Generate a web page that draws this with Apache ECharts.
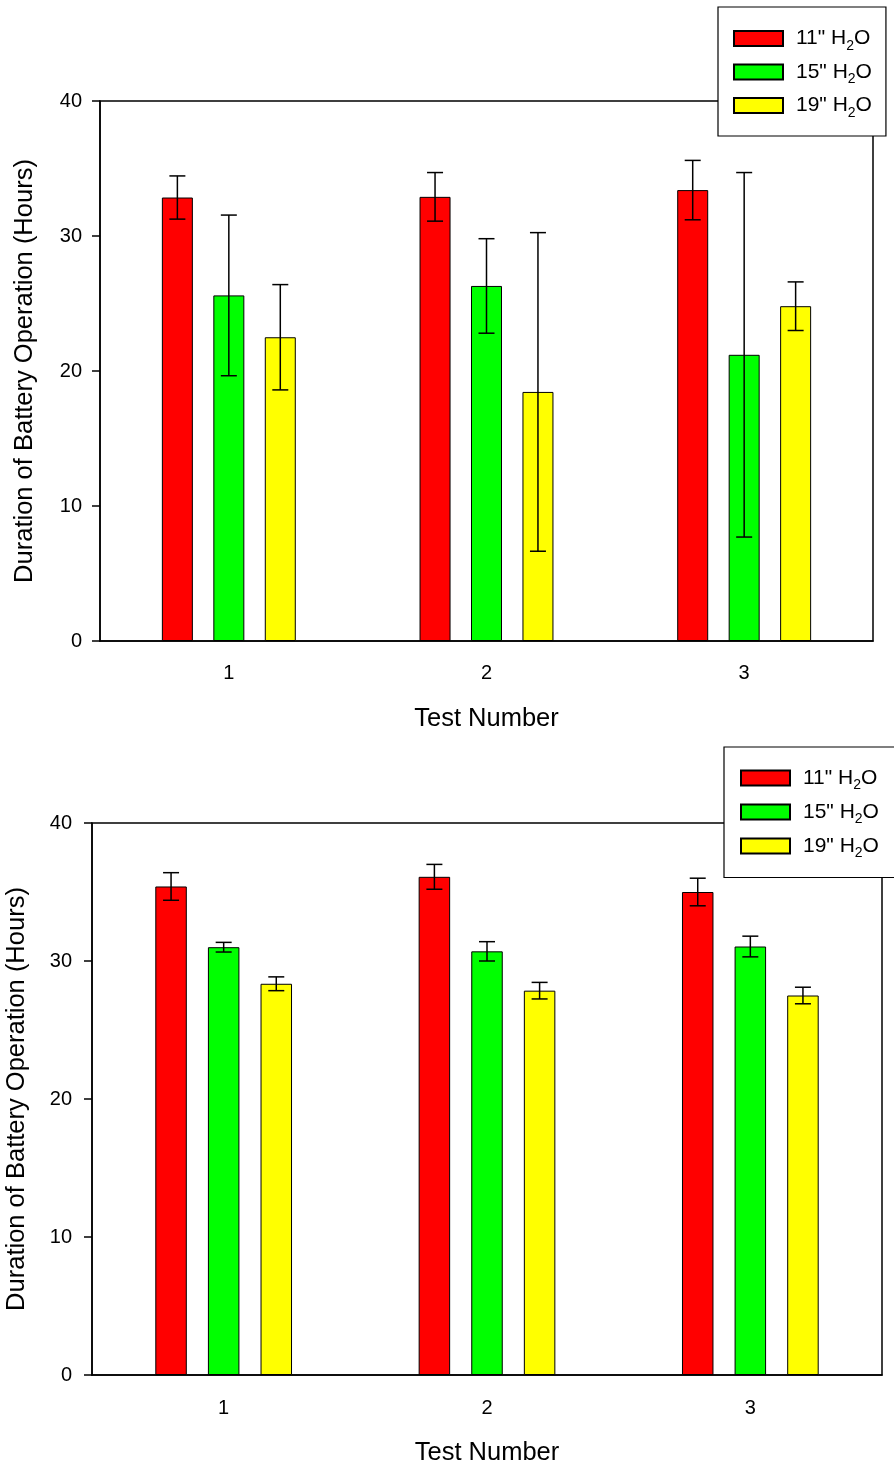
<!DOCTYPE html>
<html>
<head>
<meta charset="utf-8">
<script src="https://cdn.jsdelivr.net/npm/echarts@6/dist/echarts.min.js"></script>
<style>
  html, body { margin: 0; padding: 0; background: #fff; }
  #chart { width: 894px; height: 1467px; }
</style>
</head>
<body>
<div id="chart"></div>
<script>
// ---- data ----
const categories = ['1', '2', '3'];
const seriesNames = ['11" H2O', '15" H2O', '19" H2O'];
const yTicks = [0, 10, 20, 30, 40];

// top chart: means and error (+/-)
const top11 = [32.85, 32.9, 33.4];
const top11Err = [1.6, 1.8, 2.2];
const top15 = [25.6, 26.3, 21.2];
const top15Err = [5.95, 3.5, 13.5];
const top19 = [22.5, 18.45, 24.8];
const top19Err = [3.9, 11.8, 1.8];

// bottom chart
const bot11 = [35.4, 36.1, 35.0];
const bot11Err = [1.0, 0.9, 1.0];
const bot15 = [31.0, 30.7, 31.05];
const bot15Err = [0.35, 0.7, 0.75];
const bot19 = [28.35, 27.85, 27.5];
const bot19Err = [0.5, 0.6, 0.6];

// ---- styles ----
const colors = ['#ff0000', '#00ff00', '#ffff00'];
const FONT = '"Liberation Sans", Arial, sans-serif';

const chart = echarts.init(document.getElementById('chart'), null, { renderer: 'canvas' });

function makeAxes(gridIndex, yLabelMargin, xLabelMargin, yNameGap, xNameGap) {
  return {
    x: {
      type: 'category', gridIndex: gridIndex, data: categories,
      axisLine: { lineStyle: { color: '#000', width: 1.5 } },
      axisTick: { alignWithLabel: true, length: 8, lineStyle: { color: '#000', width: 1.5 } },
      axisLabel: { color: '#000', fontSize: 20, fontFamily: FONT, margin: xLabelMargin },
      name: 'Test Number', nameLocation: 'middle', nameGap: xNameGap,
      nameTextStyle: { color: '#000', fontSize: 25.5, fontFamily: FONT },
      splitLine: { show: false }
    },
    y: {
      type: 'value', gridIndex: gridIndex, min: yTicks[0], max: yTicks[yTicks.length - 1], interval: 10,
      axisLine: { show: true, lineStyle: { color: '#000', width: 1.5 } },
      axisTick: { show: true, length: 8, lineStyle: { color: '#000', width: 1.5 } },
      axisLabel: { color: '#000', fontSize: 20, fontFamily: FONT, margin: yLabelMargin },
      splitLine: { show: false },
      name: 'Duration of Battery Operation (Hours)', nameLocation: 'middle', nameGap: yNameGap,
      nameTextStyle: { color: '#000', fontSize: 25.5, fontFamily: FONT }
    }
  };
}

const a1 = makeAxes(0, 18, 22.5, 62, 65);
const a2 = makeAxes(1, 20, 23, 62, 65);

function barSeries(name, values, idx, axisIdx, bw, gap) {
  return {
    type: 'bar', name: name, xAxisIndex: axisIdx, yAxisIndex: axisIdx,
    data: values, barWidth: bw, barGap: gap,
    itemStyle: { color: colors[idx], borderColor: '#000', borderWidth: 1 },
    z: 2
  };
}

function errSeries(values, errs, idx, axisIdx, step) {
  return {
    type: 'custom', name: 'err' + axisIdx + '_' + idx,
    xAxisIndex: axisIdx, yAxisIndex: axisIdx,
    data: values.map((v, i) => [i, v - errs[i], v + errs[i]]),
    encode: { x: 0, y: [1, 2] },
    z: 5, silent: true,
    renderItem: function (params, api) {
      const ci = api.value(0);
      const pHi = api.coord([ci, api.value(2)]);
      const pLo = api.coord([ci, api.value(1)]);
      const cx = pHi[0] + (idx - 1) * step;
      const hw = 8;
      const st = { stroke: '#000', lineWidth: 1.5 };
      return {
        type: 'group',
        children: [
          { type: 'line', shape: { x1: cx, y1: pHi[1], x2: cx, y2: pLo[1] }, style: st },
          { type: 'line', shape: { x1: cx - hw, y1: pHi[1], x2: cx + hw, y2: pHi[1] }, style: st },
          { type: 'line', shape: { x1: cx - hw, y1: pLo[1], x2: cx + hw, y2: pLo[1] }, style: st }
        ]
      };
    }
  };
}

const legendText = {
  color: '#000', fontSize: 21, fontFamily: FONT, lineHeight: 24,
  padding: [0, 0, 0, 8],
  rich: {
    sub: { fontSize: 14, fontFamily: FONT, color: '#000', verticalAlign: 'bottom', height: 9, lineHeight: 12 }
  }
};
function legendFmt(name) { return name.replace('H2O', 'H{sub|2}O'); }

const option = {
  animation: false,
  backgroundColor: '#fff',
  grid: [
    { left: 100, top: 101, width: 773, height: 540, show: true, borderColor: '#000', borderWidth: 1.5, backgroundColor: 'transparent', containLabel: false, outerBoundsMode: 'none' },
    { left: 92, top: 823, width: 790, height: 552, show: true, borderColor: '#000', borderWidth: 1.5, backgroundColor: 'transparent', containLabel: false, outerBoundsMode: 'none' }
  ],
  xAxis: [a1.x, a2.x],
  yAxis: [a1.y, a2.y],
  legend: [
    {
      data: seriesNames, orient: 'vertical', left: 718, top: 7,
      itemWidth: 49, itemHeight: 15, itemGap: 7, icon: 'rect',
      padding: [19.5, 14, 16, 15],
      backgroundColor: '#fff', borderColor: '#000', borderWidth: 1.2,
      textStyle: legendText, formatter: legendFmt, selectedMode: false
    },
    {
      data: seriesNames, orient: 'vertical', left: 724, top: 747,
      itemWidth: 49, itemHeight: 15, itemGap: 7.5, icon: 'rect',
      padding: [19, 30, 17, 16],
      backgroundColor: '#fff', borderColor: '#000', borderWidth: 1.2,
      textStyle: legendText, formatter: legendFmt, selectedMode: false
    }
  ],
  series: [
    barSeries(seriesNames[0], top11, 0, 0, 31, '66%'),
    barSeries(seriesNames[1], top15, 1, 0, 31, '66%'),
    barSeries(seriesNames[2], top19, 2, 0, 31, '66%'),
    errSeries(top11, top11Err, 0, 0, 31 * 1.66),
    errSeries(top15, top15Err, 1, 0, 31 * 1.66),
    errSeries(top19, top19Err, 2, 0, 31 * 1.66),
    barSeries(seriesNames[0], bot11, 0, 1, 31.5, '67%'),
    barSeries(seriesNames[1], bot15, 1, 1, 31.5, '67%'),
    barSeries(seriesNames[2], bot19, 2, 1, 31.5, '67%'),
    errSeries(bot11, bot11Err, 0, 1, 31.5 * 1.67),
    errSeries(bot15, bot15Err, 1, 1, 31.5 * 1.67),
    errSeries(bot19, bot19Err, 2, 1, 31.5 * 1.67)
  ]
};
chart.setOption(option);
</script>
</body>
</html>
